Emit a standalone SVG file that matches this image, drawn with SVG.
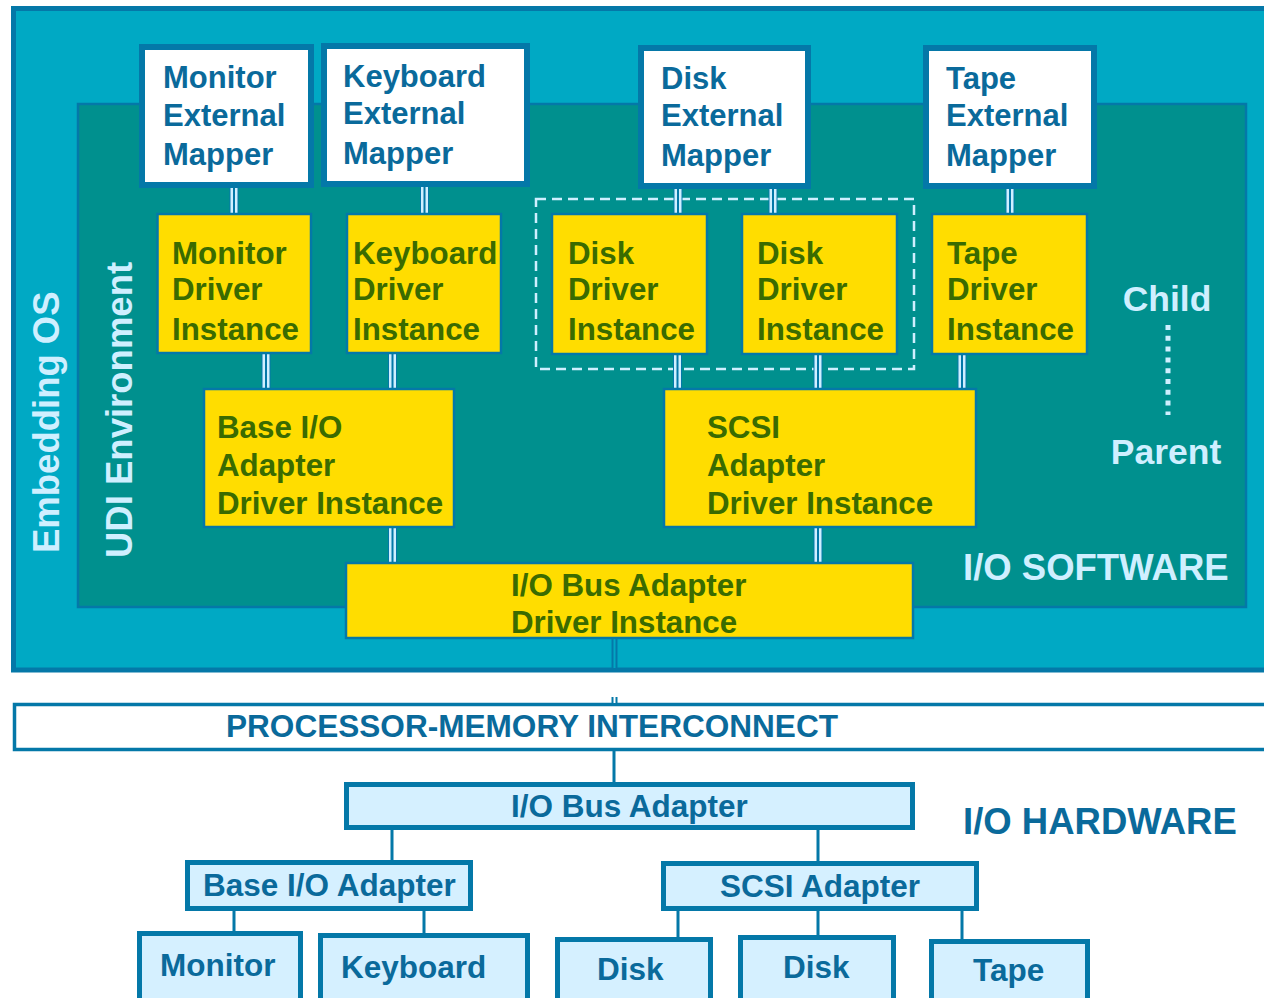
<svg xmlns="http://www.w3.org/2000/svg" width="1264" height="998" viewBox="0 0 1264 998">
  <defs>
    <style>
      text { font-family: "Liberation Sans", Arial, sans-serif; font-weight: bold; }
      .os { fill: #00A9C4; stroke: #0478A8; stroke-width: 5; }
      .udi { fill: #00908E; stroke: #0478A8; stroke-width: 2.5; }
      .mapper { fill: #FFFFFF; stroke: #0478A8; stroke-width: 6; }
      .drv { fill: #FFDD00; stroke: #0478A8; stroke-width: 2.5; }
      .hw { fill: #D5F0FF; stroke: #0478A8; stroke-width: 5; }
      .bus { fill: #FFFFFF; stroke: #0478A8; stroke-width: 3.5; }
      .t-map { fill: #0A6A9B; font-size: 31px; }
      .t-drv { fill: #3A6B00; font-size: 31.3px; }
      .t-hw { fill: #0A6A9B; font-size: 31.5px; }
      .t-light { fill: #CFEFFF; font-size: 36.5px; }
      .t-big { fill: #0A6A9B; font-size: 36.5px; }
      .dbl-out { stroke: #0478A8; stroke-width: 9; fill: none; }
      .dbl-mid { stroke: #CFEFFF; stroke-width: 7; fill: none; }
      .dbl-in { stroke: #0478A8; stroke-width: 2; fill: none; }
      .dk-out { stroke: #0478A8; stroke-width: 6; fill: none; }
      .dk-in-cyan { stroke: #00A9C4; stroke-width: 2; fill: none; }
      .dk-in-white { stroke: #FFFFFF; stroke-width: 2; fill: none; }
      .single { stroke: #0478A8; stroke-width: 3; fill: none; }
      .group-box { fill: none; stroke: #CFEFFF; stroke-width: 2.5; stroke-dasharray: 10 6; }
      .dots { stroke: #CFEFFF; stroke-width: 5; stroke-dasharray: 5 5.8; fill: none; }
    </style>
  </defs>

  <!-- Embedding OS frame -->
  <g id="embedding-os">
    <rect class="os" x="13.5" y="8.5" width="1260" height="661.5"/>
    <text class="t-light" transform="translate(59,553) rotate(-90)">Embedding OS</text>
  </g>

  <!-- UDI environment frame -->
  <g id="udi-environment">
    <rect class="udi" x="78" y="104" width="1168" height="503"/>
    <text class="t-light" transform="translate(132,558) rotate(-90)">UDI Environment</text>
    <text class="t-light" x="963" y="580">I/O SOFTWARE</text>
  </g>

  <!-- Processor-memory interconnect bar -->
  <g id="interconnect">
    <rect class="bus" x="14.5" y="704.5" width="1260" height="45"/>
    <text class="t-hw" x="226" y="737" textLength="612" lengthAdjust="spacingAndGlyphs">PROCESSOR-MEMORY INTERCONNECT</text>
  </g>

  <!-- Disk driver instance grouping -->
  <g id="disk-group">
    <rect class="group-box" x="536" y="199" width="378" height="170"/>
  </g>

  <!-- Connectors -->
  <g id="connectors">
    <g id="dbl-links">
      <path class="dbl-out" d="M234 186V214 M424.5 185V214 M678 186V214 M773 186V214 M1010 187V214 M266 353V389 M392.5 353V389 M677.5 354V389 M818 354V389 M962 354V389 M392.5 527V563 M818 527V563"/>
      <path class="dbl-mid" d="M234 186V214 M424.5 185V214 M678 186V214 M773 186V214 M1010 187V214 M266 353V389 M392.5 353V389 M677.5 354V389 M818 354V389 M962 354V389 M392.5 527V563 M818 527V563"/>
      <path class="dbl-in" d="M234 186V214 M424.5 185V214 M678 186V214 M773 186V214 M1010 187V214 M266 353V389 M392.5 353V389 M677.5 354V389 M818 354V389 M962 354V389 M392.5 527V563 M818 527V563"/>
    </g>
    <g id="bus-link">
      <path class="dk-out" d="M614.5 638V668"/>
      <path class="dk-in-cyan" d="M614.5 638V668"/>
      <path class="dk-out" d="M614.5 697V703"/>
      <path class="dk-in-white" d="M614.5 697V703"/>
    </g>
    <path class="single" d="M614 750V784 M392 830V862 M818 830V863 M234 911V940 M424 911V940 M678 911V939 M818 911V945 M962 911V941"/>
    <!-- child/parent legend -->
    <path class="dots" d="M1168 325V415"/>
  </g>

  <!-- External mappers -->
  <g id="monitor-mapper">
    <rect class="mapper" x="142" y="47" width="169" height="138"/>
    <text class="t-map" x="163" y="88">Monitor</text>
    <text class="t-map" x="163" y="126">External</text>
    <text class="t-map" x="163" y="165">Mapper</text>
  </g>
  <g id="keyboard-mapper">
    <rect class="mapper" x="324" y="46" width="203" height="138"/>
    <text class="t-map" x="343" y="87">Keyboard</text>
    <text class="t-map" x="343" y="124">External</text>
    <text class="t-map" x="343" y="164">Mapper</text>
  </g>
  <g id="disk-mapper">
    <rect class="mapper" x="641" y="48" width="167" height="138"/>
    <text class="t-map" x="661" y="89">Disk</text>
    <text class="t-map" x="661" y="126">External</text>
    <text class="t-map" x="661" y="166">Mapper</text>
  </g>
  <g id="tape-mapper">
    <rect class="mapper" x="926" y="48" width="168" height="138"/>
    <text class="t-map" x="946" y="89">Tape</text>
    <text class="t-map" x="946" y="126">External</text>
    <text class="t-map" x="946" y="166">Mapper</text>
  </g>

  <!-- Leaf driver instances -->
  <g id="monitor-driver">
    <rect class="drv" x="157.5" y="214" width="153.5" height="139"/>
    <text class="t-drv" x="172" y="264">Monitor</text>
    <text class="t-drv" x="172" y="300">Driver</text>
    <text class="t-drv" x="172" y="340">Instance</text>
  </g>
  <g id="keyboard-driver">
    <rect class="drv" x="347" y="214" width="154" height="139"/>
    <text class="t-drv" x="353" y="264">Keyboard</text>
    <text class="t-drv" x="353" y="300">Driver</text>
    <text class="t-drv" x="353" y="340">Instance</text>
  </g>
  <g id="disk-driver-1">
    <rect class="drv" x="552" y="214" width="155" height="140"/>
    <text class="t-drv" x="568" y="264">Disk</text>
    <text class="t-drv" x="568" y="300">Driver</text>
    <text class="t-drv" x="568" y="340">Instance</text>
  </g>
  <g id="disk-driver-2">
    <rect class="drv" x="742" y="214" width="155" height="140"/>
    <text class="t-drv" x="757" y="264">Disk</text>
    <text class="t-drv" x="757" y="300">Driver</text>
    <text class="t-drv" x="757" y="340">Instance</text>
  </g>
  <g id="tape-driver">
    <rect class="drv" x="932" y="214" width="155" height="140"/>
    <text class="t-drv" x="947" y="264">Tape</text>
    <text class="t-drv" x="947" y="300">Driver</text>
    <text class="t-drv" x="947" y="340">Instance</text>
  </g>

  <!-- Adapter driver instances -->
  <g id="base-io-driver">
    <rect class="drv" x="204" y="389" width="250" height="138"/>
    <text class="t-drv" x="217" y="438">Base I/O</text>
    <text class="t-drv" x="217" y="476">Adapter</text>
    <text class="t-drv" x="217" y="514">Driver Instance</text>
  </g>
  <g id="scsi-driver">
    <rect class="drv" x="664" y="389" width="312" height="138"/>
    <text class="t-drv" x="707" y="438">SCSI</text>
    <text class="t-drv" x="707" y="476">Adapter</text>
    <text class="t-drv" x="707" y="514">Driver Instance</text>
  </g>
  <g id="io-bus-driver">
    <rect class="drv" x="346" y="563" width="567" height="75"/>
    <text class="t-drv" x="511" y="596">I/O Bus Adapter</text>
    <text class="t-drv" x="511" y="633">Driver Instance</text>
  </g>

  <!-- Legend -->
  <g id="legend">
    <text class="t-light" x="1167" y="311" text-anchor="middle" style="font-size:35.5px">Child</text>
    <text class="t-light" x="1166" y="464" text-anchor="middle" style="font-size:35.5px">Parent</text>
  </g>

  <!-- Hardware -->
  <text class="t-big" x="963" y="834">I/O HARDWARE</text>
  <g id="io-bus-hw">
    <rect class="hw" x="346.5" y="784.5" width="566" height="43"/>
    <text class="t-hw" x="511" y="817">I/O Bus Adapter</text>
  </g>
  <g id="base-io-hw">
    <rect class="hw" x="187.5" y="862.5" width="283" height="46"/>
    <text class="t-hw" x="203" y="896">Base I/O Adapter</text>
  </g>
  <g id="scsi-hw">
    <rect class="hw" x="663.5" y="863.5" width="313" height="45"/>
    <text class="t-hw" x="720" y="897">SCSI Adapter</text>
  </g>
  <g id="monitor-hw">
    <rect class="hw" x="139.5" y="933.5" width="161" height="80"/>
    <text class="t-hw" x="160" y="976">Monitor</text>
  </g>
  <g id="keyboard-hw">
    <rect class="hw" x="320.5" y="935.5" width="207" height="80"/>
    <text class="t-hw" x="341" y="978">Keyboard</text>
  </g>
  <g id="disk-hw-1">
    <rect class="hw" x="557.5" y="939.5" width="153" height="80"/>
    <text class="t-hw" x="597" y="980">Disk</text>
  </g>
  <g id="disk-hw-2">
    <rect class="hw" x="740.5" y="937.5" width="153" height="80"/>
    <text class="t-hw" x="783" y="978">Disk</text>
  </g>
  <g id="tape-hw">
    <rect class="hw" x="931.5" y="941.5" width="156" height="80"/>
    <text class="t-hw" x="973" y="981">Tape</text>
  </g>
</svg>
